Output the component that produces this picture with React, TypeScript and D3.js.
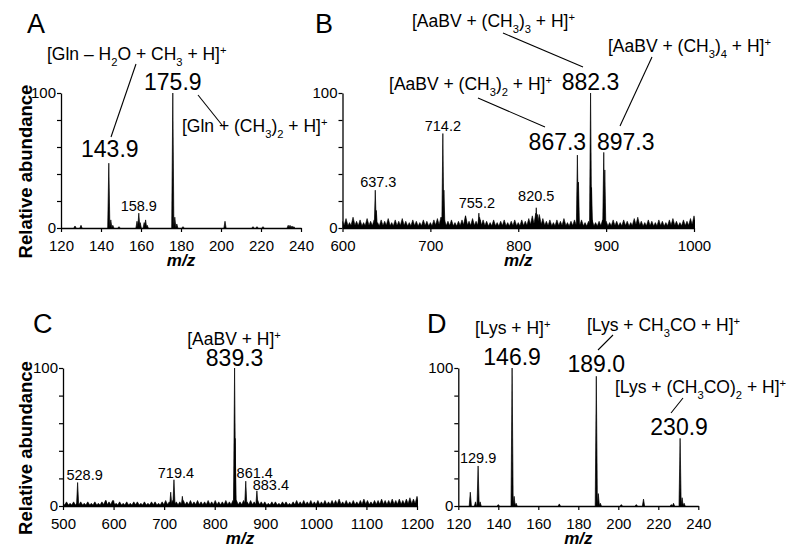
import React, { useEffect, useRef } from 'react';
import * as d3 from 'd3';

const FONT = '"Liberation Sans", Arial, Helvetica, sans-serif';

// ---- data (m/z, relative abundance %) ----
const ticksA = [120, 140, 160, 180, 200, 220, 240];
const peaksA: [number, number][] = [
  [127, 1.5], [130, 2], [143.9, 48], [144.9, 6], [145.9, 2], [149, 1],
  [158.0, 5], [158.9, 11], [159.6, 4], [161.6, 4], [162.3, 6], [163.1, 2],
  [175.9, 100], [176.9, 8], [177.9, 3], [181, 1], [202, 5], [216, 1], [218, 1], [221, 1],
  [233.6, 2], [234.5, 2], [235.5, 1.5], [236.4, 1],
];

const ticksB = [600, 700, 800, 900, 1000];
const peaksB: [number, number][] = [
  [637.3, 28], [638.5, 13], [713, 8], [714.2, 70], [715.4, 28], [740, 9],
  [755.2, 11], [756.5, 6], [820.5, 15], [822, 10], [867.3, 54], [868.5, 34],
  [882.3, 100], [883.4, 30], [897.3, 56], [898.5, 43],
];
// baseline noise spikes, one every 4 m/z from 600
const noiseBStart = 600;
const noiseBStep = 4;
const noiseB = [
  5, 7, 4, 8, 5, 6, 4, 7, 5, 6, 4, 6, 5, 7, 4, 6, 5, 7, 5, 4, 6, 5, 4, 6, 5,
  4, 6, 7, 8, 6, 5, 6, 4, 5, 6, 9, 5, 7, 5, 8, 6, 5, 4, 6, 4, 5, 6, 4, 5, 6,
  4, 6, 5, 7, 9, 11, 10, 7, 5, 6, 4, 6, 5, 7, 4, 5, 6, 5, 6, 4, 5, 6, 4, 5, 6,
  5, 4, 6, 5, 4, 6, 5, 4, 7, 8, 5, 4, 6, 5, 4, 6, 5, 4, 6, 7, 5, 4, 6, 5, 7, 9,
];

const ticksC = [500, 600, 700, 800, 900, 1000, 1100, 1200];
const peaksC: [number, number][] = [
  [528.9, 17], [585, 4], [600, 4], [713, 10], [719.4, 19], [736, 7],
  [839.3, 100], [840.3, 49], [861.4, 18], [883.4, 11],
];
// baseline noise spikes, one every 7 m/z from 500
const noiseCStart = 500;
const noiseCStep = 7;
const noiseC = [
  2, 3, 2, 3, 2, 3, 2, 3, 2, 3, 2, 3, 4, 3, 4, 2, 3, 2, 3, 2, 3, 3, 2, 3, 2,
  3, 3, 2, 3, 4, 3, 4, 3, 3, 4, 3, 4, 3, 4, 3, 3, 4, 3, 4, 3, 3, 4, 3, 4, 4,
  3, 4, 3, 4, 3, 4, 3, 3, 2, 3, 3, 2, 3, 3, 2, 3, 4, 3, 4, 3, 4, 3, 4, 3, 4,
  3, 4, 4, 5, 3, 4, 3, 4, 3, 4, 5, 4, 3, 4, 4, 5, 4, 4, 5, 4, 5, 4, 5, 6, 5, 7,
];

const ticksD = [120, 140, 160, 180, 200, 220, 240];
const peaksD: [number, number][] = [
  [126, 10], [128.6, 3], [129.9, 29], [130.9, 3], [140, 1], [146.9, 100], [147.9, 7],
  [148.9, 2], [170.5, 1.5], [189.0, 94], [190, 9], [191, 2], [201.5, 1], [209, 1],
  [212.6, 5], [226.5, 1], [227.6, 2], [230.9, 49], [231.9, 6], [232.9, 2],
];

// peak labels: m/z, abundance, text
const labelsA: [number, number, string][] = [[143.9, 48, '143.9'], [175.9, 100, '175.9'], [158.9, 11, '158.9']];
const labelsB: [number, number, string][] = [
  [882.3, 100, '882.3'], [867.3, 54, '867.3'], [897.3, 56, '897.3'],
  [714.2, 70, '714.2'], [637.3, 28, '637.3'], [755.2, 11, '755.2'], [820.5, 15, '820.5'],
];
const labelsC: [number, number, string][] = [
  [839.3, 100, '839.3'], [528.9, 17, '528.9'], [719.4, 19, '719.4'], [861.4, 18, '861.4'], [883.4, 11, '883.4'],
];
const labelsD: [number, number, string][] = [
  [146.9, 100, '146.9'], [189.0, 94, '189.0'], [230.9, 49, '230.9'], [129.9, 29, '129.9'],
];

type Part = [string, ('sub' | 'sup')?];
const glnWater: Part[] = [['[Gln – H'], ['2', 'sub'], ['O + CH'], ['3', 'sub'], [' + H]'], ['+', 'sup']];
const glnDimethyl: Part[] = [['[Gln + (CH'], ['3', 'sub'], [')'], ['2', 'sub'], [' + H]'], ['+', 'sup']];
const aabvTrimethyl: Part[] = [['[AaBV + (CH'], ['3', 'sub'], [')'], ['3', 'sub'], [' + H]'], ['+', 'sup']];
const aabvTetramethyl: Part[] = [['[AaBV + (CH'], ['3', 'sub'], [')'], ['4', 'sub'], [' + H]'], ['+', 'sup']];
const aabvDimethyl: Part[] = [['[AaBV + (CH'], ['3', 'sub'], [')'], ['2', 'sub'], [' + H]'], ['+', 'sup']];
const aabv: Part[] = [['[AaBV + H]'], ['+', 'sup']];
const lys: Part[] = [['[Lys + H]'], ['+', 'sup']];
const lysAcetyl: Part[] = [['[Lys + CH'], ['3', 'sub'], ['CO + H]'], ['+', 'sup']];
const lysDiacetyl: Part[] = [['[Lys + (CH'], ['3', 'sub'], ['CO)'], ['2', 'sub'], [' + H]'], ['+', 'sup']];

const RichText = ({ x, y, parts, size, anchor = 'start' }: any) => {
  let cur = 0;
  return (
    <text x={x} y={y} fontSize={size} textAnchor={anchor} fontFamily={FONT} style={{ whiteSpace: 'pre' }}>
      {parts.map(([t, kind]: Part, i: number) => {
        const target = kind === 'sub' ? size * 0.32 : kind === 'sup' ? -size * 0.36 : 0;
        const dy = target - cur;
        cur = target;
        return (
          <tspan key={i} dy={dy} fontSize={kind ? size * 0.64 : size}>
            {t}
          </tspan>
        );
      })}
    </text>
  );
};

const Panel = ({ cfg }: any) => {
  const xRef = useRef<SVGGElement>(null);
  const yRef = useRef<SVGGElement>(null);

  const x = d3.scaleLinear().domain(cfg.domain).range([cfg.x0, cfg.x1]);
  const y = d3.scaleLinear().domain([0, 100]).range([cfg.yBottom, cfg.yTop]);

  useEffect(() => {
    const gx = d3.select(xRef.current);
    gx.selectAll('*').remove();
    gx.call(d3.axisBottom(x).tickValues(cfg.ticks).tickSize(4).tickSizeOuter(0).tickFormat(d3.format('d')) as any);
    gx.attr('font-family', FONT).attr('font-size', 15);
    gx.select('.domain').attr('stroke-width', 1.3);
    gx.selectAll('.tick line').attr('stroke-width', 1.2);
    gx.selectAll('.tick text').attr('y', 12).attr('fill', '#000');

    const gy = d3.select(yRef.current);
    gy.selectAll('*').remove();
    gy.call(
      d3
        .axisLeft(y)
        .tickValues([0, 20, 40, 60, 80, 100])
        .tickSize(4)
        .tickPadding(1)
        .tickSizeOuter(0)
        .tickFormat((d: any) => (d === 0 || d === 100 ? String(d) : '')) as any
    );
    gy.attr('font-family', FONT).attr('font-size', 15);
    gy.select('.domain').attr('stroke-width', 1.3);
    gy.selectAll('.tick line').attr('stroke-width', 1.2);
    gy.selectAll('.tick text').attr('fill', '#000');
  }, []);

  const stick = d3
    .line<[number, number]>()
    .x((d) => x(d[0]))
    .y((d) => y(d[1]));

  // noise drawn as overlapping narrow spikes so the base fills in
  const noisePath = cfg.noise
    ? cfg.noise
        .map((h: number, i: number) => {
          const m = cfg.noiseStart + i * cfg.noiseStep;
          return stick([[m - cfg.noiseHalf, 0], [m, h], [m + cfg.noiseHalf, 0]]) + 'Z';
        })
        .join('')
    : null;

  return (
    <g>
      <text x={cfg.letterX} y={cfg.letterY} fontSize={27} fontFamily={FONT}>
        {cfg.letter}
      </text>
      {cfg.yTitle && (
        <text
          transform={`translate(32, ${(cfg.yTop + cfg.yBottom) / 2 + 11}) rotate(-90)`}
          textAnchor="middle"
          fontSize={18.5}
          fontWeight="bold"
          fontFamily={FONT}
        >
          Relative abundance
        </text>
      )}
      {noisePath && (
        <g clipPath={`url(#clip${cfg.letter})`}>
          <clipPath id={`clip${cfg.letter}`}>
            <rect x={cfg.x0} y={cfg.yTop - 10} width={cfg.x1 - cfg.x0 + 1} height={cfg.yBottom - cfg.yTop + 10} />
          </clipPath>
          <path d={noisePath} fill="#000" stroke="#000" strokeWidth={0.6} strokeLinejoin="round" />
        </g>
      )}
      {cfg.peaks.map(([m, h]: [number, number], i: number) => (
        <path
          key={i}
          d={stick([[m - cfg.half, 0], [m, h], [m + cfg.half, 0]]) as string}
          fill="#000"
          stroke="#000"
          strokeWidth={0.7}
        />
      ))}
      <g ref={xRef} transform={`translate(0, ${cfg.yBottom})`} />
      <g ref={yRef} transform={`translate(${cfg.x0}, 0)`} />
      <text
        x={(cfg.x0 + cfg.x1) / 2}
        y={cfg.yBottom + 38}
        textAnchor="middle"
        fontSize={17}
        fontWeight="bold"
        fontStyle="italic"
        fontFamily={FONT}
      >
        m/z
      </text>
      {cfg.labels.map(([m, h, t]: [number, number, string], i: number) => {
        const [dx, dy, big] = cfg.labelPos[i];
        return (
          <text
            key={t}
            x={x(m) + dx}
            y={y(h) + dy}
            textAnchor="middle"
            fontSize={big ? 23 : 14.5}
            fontFamily={FONT}
          >
            {t}
          </text>
        );
      })}
      {cfg.formulas.map((f: any, i: number) => (
        <RichText key={i} x={f.x} y={f.y} parts={f.parts} size={17.5} anchor={f.anchor} />
      ))}
      {cfg.leaders.map((l: number[], i: number) => (
        <line key={i} x1={l[0]} y1={l[1]} x2={l[2]} y2={l[3]} stroke="#000" strokeWidth={1.1} />
      ))}
    </g>
  );
};

const panels = [
  {
    letter: 'A', letterX: 27, letterY: 33, yTitle: true,
    domain: [120, 240], x0: 61, x1: 301, yTop: 93, yBottom: 228, ticks: ticksA,
    peaks: peaksA, half: 0.55, noise: null,
    labels: labelsA, labelPos: [[1, -6, true], [0, -3, true], [0, -2, false]],
    formulas: [
      { parts: glnWater, x: 47, y: 60 },
      { parts: glnDimethyl, x: 182, y: 132 },
    ],
    leaders: [[136, 64, 111, 137], [198, 95, 222, 125]],
  },
  {
    letter: 'B', letterX: 315, letterY: 33, yTitle: false,
    domain: [600, 1000], x0: 342.5, x1: 694, yTop: 93, yBottom: 228, ticks: ticksB,
    peaks: peaksB, half: 1.2,
    noise: noiseB, noiseStart: noiseBStart, noiseStep: noiseBStep, noiseHalf: 3,
    labels: labelsB,
    labelPos: [[0, -3, true], [-20, -5, true], [22, -2, true], [0, -3, false], [3, -3, false], [-2, -5, false], [0, -7, false]],
    formulas: [
      { parts: aabvTrimethyl, x: 412, y: 27 },
      { parts: aabvTetramethyl, x: 608, y: 52 },
      { parts: aabvDimethyl, x: 552, y: 90, anchor: 'end' },
    ],
    leaders: [[503, 33, 583, 67], [478, 98, 545, 127], [652, 57, 620, 126]],
  },
  {
    letter: 'C', letterX: 33, letterY: 333, yTitle: true,
    domain: [500, 1200], x0: 63, x1: 417, yTop: 368, yBottom: 506, ticks: ticksC,
    peaks: peaksC, half: 2.2,
    noise: noiseC, noiseStart: noiseCStart, noiseStep: noiseCStep, noiseHalf: 5,
    labels: labelsC,
    labelPos: [[0, -2, true], [7, -2.5, false], [2, -2, false], [9, -3, false], [14, -1, false]],
    formulas: [{ parts: aabv, x: 234, y: 345, anchor: 'middle' }],
    leaders: [],
  },
  {
    letter: 'D', letterX: 427, letterY: 333, yTitle: false,
    domain: [120, 240], x0: 458.3, x1: 698.3, yTop: 368, yBottom: 506, ticks: ticksD,
    peaks: peaksD, half: 0.55, noise: null,
    labels: labelsD, labelPos: [[0, -3, true], [0, -4, true], [-1, -3, true], [0, -3, false]],
    formulas: [
      { parts: lys, x: 475, y: 334 },
      { parts: lysAcetyl, x: 587, y: 331 },
      { parts: lysDiacetyl, x: 615, y: 393 },
    ],
    leaders: [[613, 335, 598, 350], [683, 398, 671, 413]],
  },
];

export default function App() {
  return (
    <svg
      width={800}
      height={556}
      style={{ position: 'absolute', left: 0, top: 0, background: '#fff' }}
    >
      <rect width={800} height={556} fill="#fff" />
      {panels.map((p) => (
        <Panel key={p.letter} cfg={p} />
      ))}
    </svg>
  );
}
